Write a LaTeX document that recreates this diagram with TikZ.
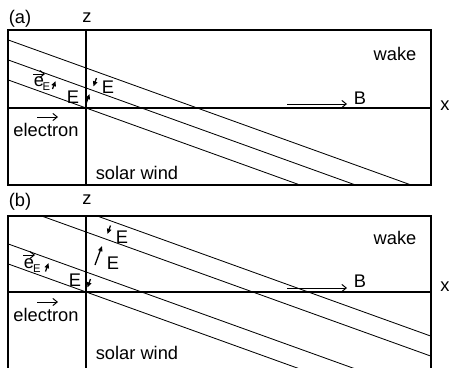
\documentclass[tikz,border=0pt]{standalone}
\usepackage{fontspec}
\setmainfont{Liberation Sans}
\usetikzlibrary{arrows.meta,calc}
\tikzset{
  frame/.style={line width=1.1pt},
  front/.style={line width=0.6pt},
  lab/.style={font=\fontsize{13}{15}\selectfont,inner sep=0pt},
  sublab/.style={font=\fontsize{8}{9}\selectfont,inner sep=0pt},
  earr/.style={-{Triangle[length=1.3mm,width=1.1mm]},line width=0.9pt},
  vec/.style={-{Straight Barb[length=1.1mm,width=1.8mm]},line width=0.7pt}
}

\begin{document}
\begin{tikzpicture}[x=0.025cm,y=-0.025cm]
  \useasboundingbox (0,0) rectangle (449,368);

  % panel (a)
  \node[lab] (pa) at (20,19) {(a)};
  \node[lab] (za) at (87,18) {z};
  \draw[frame] (8,30) rectangle (431,185);
  \coordinate (oa) at (86,108);
  \draw[frame] (8,108) -- (431,108);
  \draw[frame] (86,30) -- (86,185);
  \node[lab] (xa) at (445,106) {x};
  \begin{scope}
    \clip (8,30) rectangle (431,185);
    \foreach \d in {0,20,40}{\draw[front] (0,{77-\d}) -- (460,{242.6-\d});}
  \end{scope}
  \node[lab] (wa) at (395,54) {wake};
  \node[lab] (Ba) at (360,98) {B};
  \coordinate (bsa) at (287,104);
  \draw[vec] (bsa) -- (347,104);
  \node[lab] (ela) at (46,130) {electron};
  \draw[vec] (37,117) -- (58,117);
  \node[lab] (swa) at (137,173) {solar wind};
  \node[lab] (eea) at (39,82) {e};
  \node[sublab] (esa) at (46.5,87) {E};
  \draw[vec] (33,74) -- (45,74);
  \draw[earr] (52.5,89) -- (55.5,81);
  \node[lab] (E1a) at (73,97) {E};
  \draw[earr] (86.5,102.5) -- (89.5,94);
  \draw[earr] (96.5,78) -- (93.5,86.5);
  \node[lab] (E2a) at (108,87) {E};

  % panel (b)
  \node[lab] (pb) at (20,202) {(b)};
  \node[lab] (zb) at (87,200) {z};
  \draw[frame] (8,372) -- (8,216) -- (431,216) -- (431,372);
  \coordinate (ob) at (86,292);
  \draw[frame] (8,292) -- (431,292);
  \draw[frame] (86,216) -- (86,372);
  \node[lab] (xb) at (445,287) {x};
  \begin{scope}
    \clip (8,216) rectangle (431,372);
    \foreach \d in {0,20,60,80}{\draw[front] (0,{261-\d}) -- (460,{426.6-\d});}
  \end{scope}
  \node[lab] (wb) at (395,238) {wake};
  \node[lab] (Bb) at (360,281) {B};
  \coordinate (bsb) at (287,288);
  \draw[vec] (bsb) -- (347,288);
  \node[lab] (elb) at (46,315) {electron};
  \draw[vec] (37,302) -- (58,302);
  \node[lab] (swb) at (137,353) {solar wind};
  \node[lab] (eeb) at (29,264) {e};
  \node[sublab] (esb) at (37,268.5) {E};
  \draw[vec] (23,255) -- (35,255);
  \draw[earr] (45.5,271.5) -- (48.5,263);
  \node[lab] (E1b) at (75,280) {E};
  \draw[earr] (90.5,279) -- (87.5,287.5);
  \draw[earr] (110.5,225.5) -- (107.5,234);
  \node[lab] (E2b) at (122,237) {E};
  \draw[earr] (95,265) -- (102,246);
  \node[lab] (E3b) at (113,263) {E};
\end{tikzpicture}
\end{document}
